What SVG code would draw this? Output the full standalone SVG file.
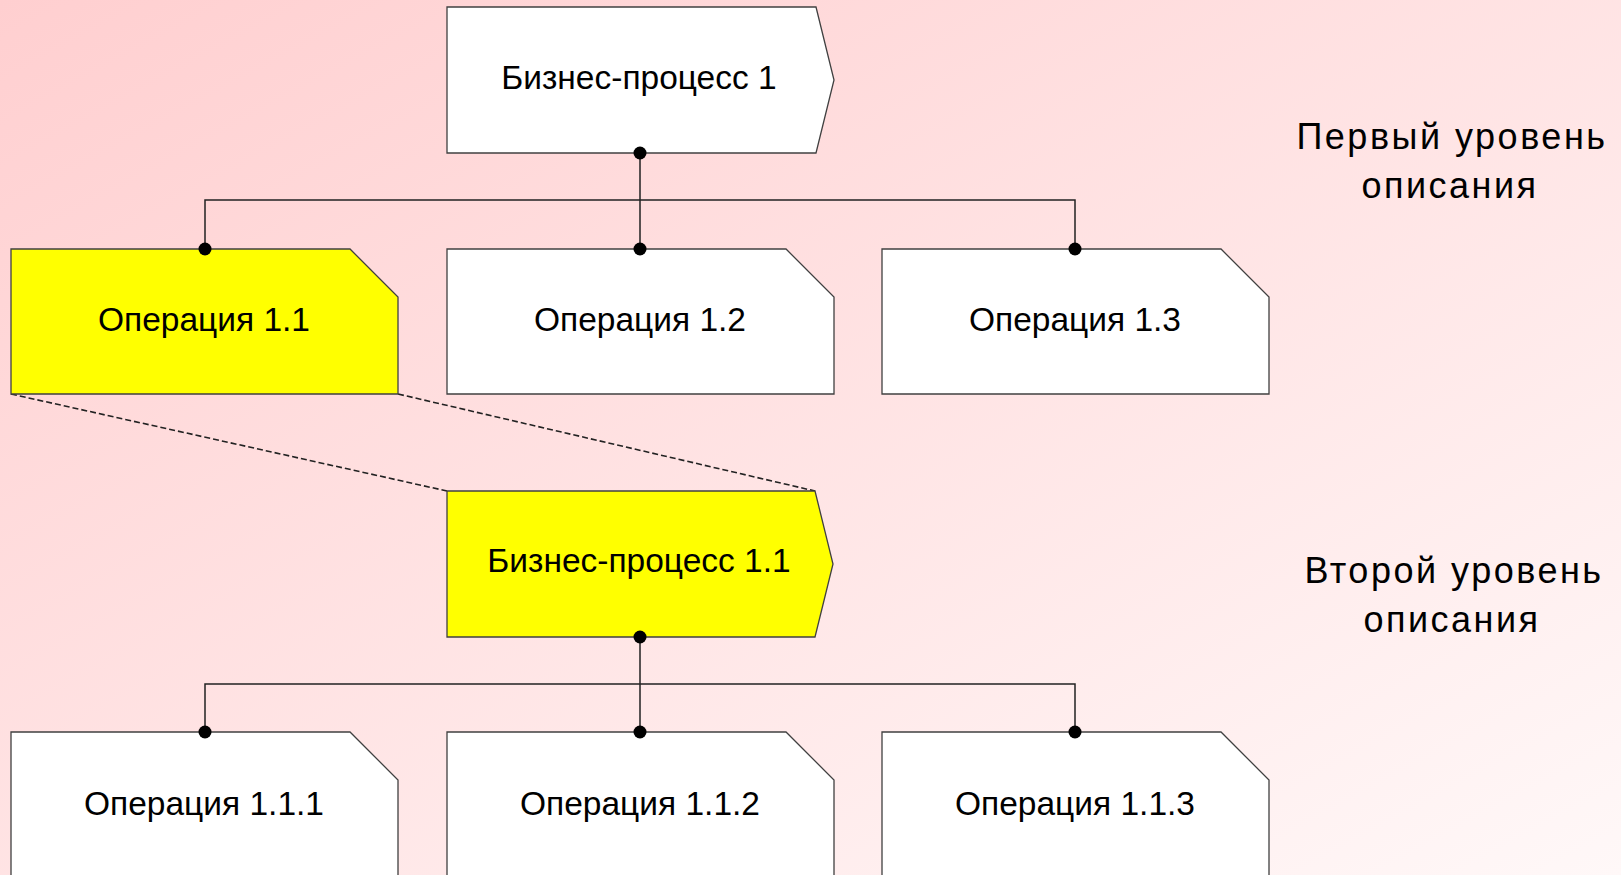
<svg xmlns="http://www.w3.org/2000/svg" width="1621" height="875" viewBox="0 0 1621 875">
<defs>
<linearGradient id="bg" x1="0" y1="0" x2="1" y2="1">
<stop offset="0" stop-color="#FFCFD0"/>
<stop offset="1" stop-color="#FFF8F8"/>
</linearGradient>
<style>
.box{stroke:#404040;stroke-width:1.3;fill:#FFFFFF}
.hl{fill:#FFFF00}
.t{font-family:"Liberation Sans",Arial,sans-serif;font-size:33.5px;fill:#000;text-anchor:middle}
.side{font-family:"Liberation Sans",Arial,sans-serif;font-size:36px;fill:#000;text-anchor:middle;letter-spacing:2.5px}
.ln{stroke:#222;stroke-width:1.5;fill:none}
.dash{stroke:#222;stroke-width:1.6;fill:none;stroke-dasharray:6 3}
.dot{fill:#000}
</style>
</defs>
<rect x="0" y="0" width="1621" height="875" fill="url(#bg)"/>

<g id="connectors">
<path class="ln" d="M640,153 V249 M205,249 V200 H1075 V249"/>
<path class="ln" d="M640,637 V732 M205,732 V684 H1075 V732"/>
<path class="dash" d="M11,394 L447,491"/>
<path class="dash" d="M398,394 L815,491"/>
</g>

<g id="bp1">
<path class="box" d="M447,7 H816 L834,80 L816,153 H447 Z"/>
<text class="t" x="639" y="89">Бизнес-процесс 1</text>
</g>
<g id="op11">
<path class="box hl" d="M11,249 H350 L398,297 V394 H11 Z"/>
<text class="t" x="204" y="331">Операция 1.1</text>
</g>
<g id="op12">
<path class="box" d="M447,249 H786 L834,297 V394 H447 Z"/>
<text class="t" x="640" y="331">Операция 1.2</text>
</g>
<g id="op13">
<path class="box" d="M882,249 H1221 L1269,297 V394 H882 Z"/>
<text class="t" x="1075" y="331">Операция 1.3</text>
</g>
<g id="bp11">
<path class="box hl" d="M447,491 H815 L833,564 L815,637 H447 Z"/>
<text class="t" x="639" y="572">Бизнес-процесс 1.1</text>
</g>
<g id="op111">
<path class="box" d="M11,732 H350 L398,780 V878 H11 Z"/>
<text class="t" x="204" y="815">Операция 1.1.1</text>
</g>
<g id="op112">
<path class="box" d="M447,732 H786 L834,780 V878 H447 Z"/>
<text class="t" x="640" y="815">Операция 1.1.2</text>
</g>
<g id="op113">
<path class="box" d="M882,732 H1221 L1269,780 V878 H882 Z"/>
<text class="t" x="1075" y="815">Операция 1.1.3</text>
</g>

<g id="dots">
<circle class="dot" cx="640" cy="153" r="6.5"/>
<circle class="dot" cx="205" cy="249" r="6.5"/>
<circle class="dot" cx="640" cy="249" r="6.5"/>
<circle class="dot" cx="1075" cy="249" r="6.5"/>
<circle class="dot" cx="640" cy="637" r="6.5"/>
<circle class="dot" cx="205" cy="732" r="6.5"/>
<circle class="dot" cx="640" cy="732" r="6.5"/>
<circle class="dot" cx="1075" cy="732" r="6.5"/>
</g>

<g id="level1">
<text class="side" x="1452" y="149">Первый уровень</text>
<text class="side" x="1450" y="198">описания</text>
</g>
<g id="level2">
<text class="side" x="1454" y="583">Второй уровень</text>
<text class="side" x="1452" y="632">описания</text>
</g>
</svg>
